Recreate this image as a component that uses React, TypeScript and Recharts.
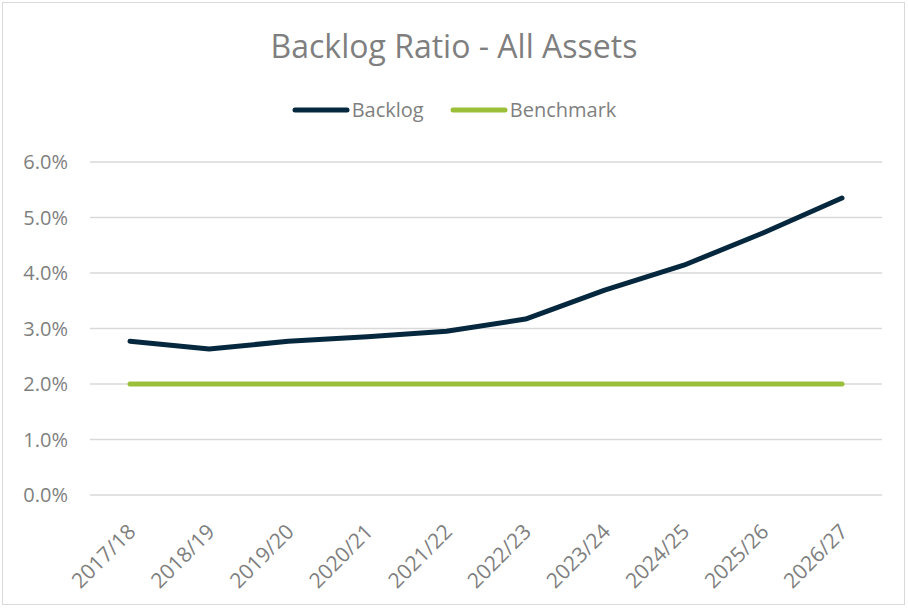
import React from 'react'
import { LineChart, Line, XAxis, YAxis, CartesianGrid } from 'recharts'

const years = ['2017/18', '2018/19', '2019/20', '2020/21', '2021/22', '2022/23', '2023/24', '2024/25', '2025/26', '2026/27']
const backlog = [2.77, 2.63, 2.77, 2.85, 2.95, 3.17, 3.69, 4.14, 4.72, 5.35]
const benchmark = [2, 2, 2, 2, 2, 2, 2, 2, 2, 2]
const yTicks = [0, 1, 2, 3, 4, 5, 6]

const data = years.map((year, i) => ({ year, backlog: backlog[i], benchmark: benchmark[i] }))

const FONT = '"Open Sans", "Noto Sans", sans-serif'
const GREY = '#7f7f7f'
const NAVY = '#06283f'
const GREEN = '#9cbf3a'

function LegendBox() {
  const items = [
    { label: 'Backlog', color: NAVY },
    { label: 'Benchmark', color: GREEN }
  ]
  return (
    <div style={{ position: 'absolute', left: 0, top: 96, width: 908, display: 'flex', justifyContent: 'center', gap: 26, fontFamily: FONT, fontSize: 20, color: GREY }}>
      {items.map(it => (
        <div key={it.label} style={{ display: 'flex', alignItems: 'center' }}>
          <svg width={58} height={10}>
            <line x1={3} y1={5} x2={55} y2={5} stroke={it.color} strokeWidth={5} strokeLinecap="round" />
          </svg>
          <span style={{ marginLeft: 2 }}>{it.label}</span>
        </div>
      ))}
    </div>
  )
}

function XTick({ x, y, payload }: any) {
  const ax = x + 7
  const ay = y + 30
  return (
    <text x={ax} y={ay} transform={`rotate(-45, ${ax}, ${ay})`} textAnchor="end" fontFamily={FONT} fontSize={21} fill={GREY}>
      {payload.value}
    </text>
  )
}

export default function App() {
  return (
    <div style={{ position: 'absolute', left: 0, top: 0, width: 908, height: 608, background: '#fff' }}>
      <div style={{ position: 'absolute', left: 2, top: 2, width: 901, height: 601, border: '1px solid #d9d9d9' }} />
      <div style={{ position: 'absolute', left: 0, top: 24, width: 908, textAlign: 'center', fontFamily: FONT, fontSize: 32, color: GREY }}>
        Backlog Ratio - All Assets
      </div>
      <LegendBox />
      <LineChart width={908} height={608} data={data} margin={{ top: 162, right: 26, bottom: 13, left: 0 }} style={{ position: 'absolute', left: 0, top: 0 }}>
        <CartesianGrid vertical={false} stroke="#d9d9d9" strokeWidth={1.5} />
        <XAxis dataKey="year" axisLine={false} tickLine={false} height={100} interval={0} padding={{ left: 40, right: 40 }} tick={<XTick />} />
        <YAxis
          width={90}
          domain={[0, 6]}
          ticks={yTicks}
          axisLine={false}
          tickLine={false}
          tickSize={0}
          tickMargin={22}
          tickFormatter={(v: number) => `${v.toFixed(1)}%`}
          tick={{ fontFamily: FONT, fontSize: 20, fill: GREY }}
        />
        <Line dataKey="backlog" name="Backlog" stroke={NAVY} strokeWidth={5} dot={false} strokeLinecap="round" strokeLinejoin="round" isAnimationActive={false} />
        <Line dataKey="benchmark" name="Benchmark" stroke={GREEN} strokeWidth={5} dot={false} strokeLinecap="round" isAnimationActive={false} />
      </LineChart>
    </div>
  )
}
